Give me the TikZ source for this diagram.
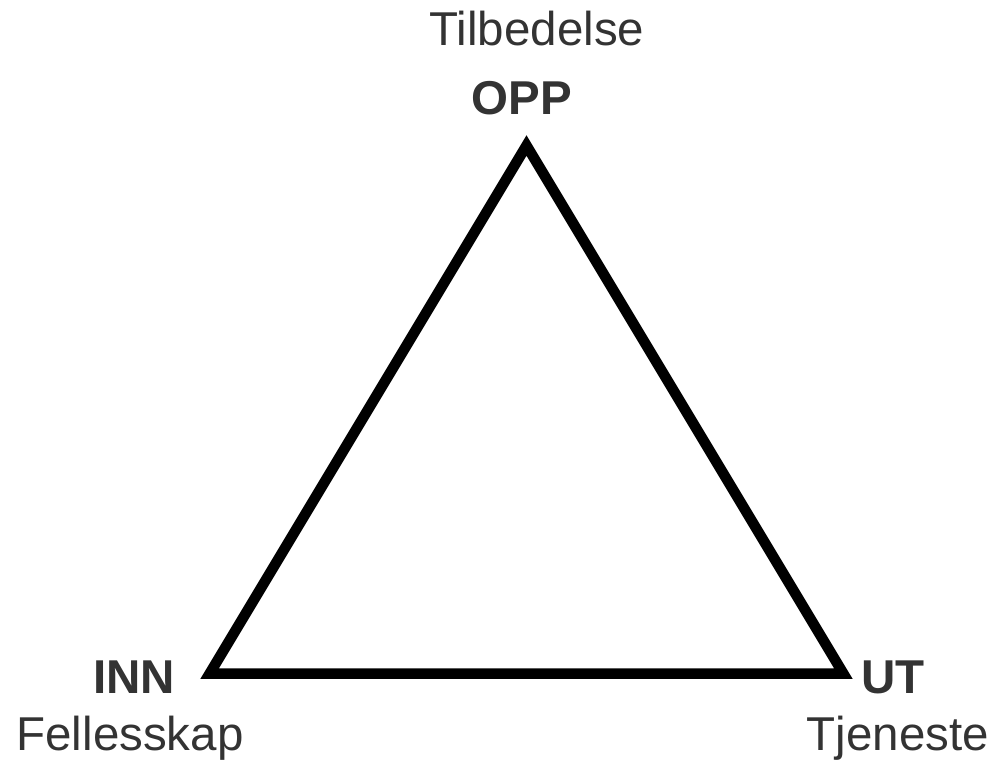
\documentclass[tikz,border=0pt]{standalone}
\usepackage{fontspec}
\setmainfont{Liberation Sans}
\definecolor{txt}{HTML}{333333}
\begin{document}
\begin{tikzpicture}[x=1pt,y=-1pt,
  lbl/.style={anchor=base,inner sep=0pt,text=txt,font=\fontsize{47.5}{57}\selectfont},
  blbl/.style={lbl,font=\fontsize{47.5}{57}\selectfont\bfseries},
  tri/.style={draw=black,line width=10.5pt,line join=miter}]
\useasboundingbox (0,0) rectangle (997,765);
\coordinate (opp) at (526.5,145.5);
\coordinate (inn) at (209.7,673.5);
\coordinate (ut) at (843.3,673.5);
\draw[tri] (opp) -- (ut) -- (inn) -- cycle;
\node[lbl] (tilb) at (537,46) {Tilbedelse};
\node[blbl] (oppl) at (522,115) {OPP};
\node[blbl] (innl) at (134,693) {INN};
\node[lbl] (fell) at (130,750) {Fellesskap};
\node[blbl] (utl) at (893,693) {UT};
\node[lbl] (tjen) at (898,750) {Tjeneste};
\end{tikzpicture}
\end{document}
